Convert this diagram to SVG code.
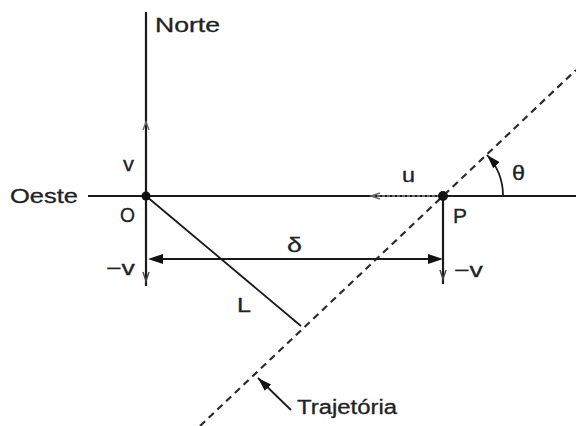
<svg xmlns="http://www.w3.org/2000/svg" width="576" height="426" viewBox="0 0 576 426">
<style>
.ln{stroke:#1a1a1a;fill:none;stroke-width:2.2}
.thin{stroke:#1a1a1a;fill:none;stroke-width:1.8}
.dash{stroke:#2a2a2a;fill:none;stroke-width:2.2;stroke-dasharray:7 5}
.gray{stroke:#888;fill:none;stroke-width:1.6}
text{font-family:"Liberation Sans",Arial,sans-serif;fill:#222;font-size:20px;stroke:#222;stroke-width:0.3}
</style>
<defs>
<marker id="big" viewBox="0 0 10 10" refX="10" refY="5" markerWidth="14" markerHeight="9" preserveAspectRatio="none" markerUnits="userSpaceOnUse" orient="auto">
<path d="M0,0 L10,5 L0,10 z" fill="#111"/>
</marker>
</defs>
<g id="connectors">
<line class="ln" x1="146" y1="12" x2="146" y2="286"/>
<line class="ln" x1="88" y1="196" x2="576" y2="196"/>
<line class="gray" x1="372" y1="196" x2="440" y2="196" stroke-dasharray="3 2"/>
<line class="ln" x1="443" y1="196" x2="443" y2="284"/>
<line class="dash" x1="200" y1="426" x2="576" y2="70"/>
<line class="thin" x1="146" y1="196" x2="301" y2="326"/>
<line class="thin" x1="160" y1="259" x2="430" y2="259"/>
<path d="M148,259 L163,254 L163,264 z" fill="#111"/>
<path d="M443,259 L428,254 L428,264 z" fill="#111"/>
<path class="thin" d="M503,196 A60 60 0 0 0 487,155" marker-end="url(#big)"/>
<line class="thin" x1="291" y1="410" x2="258" y2="378" marker-end="url(#big)"/>
<path d="M143,130 L146,122 L149,130" fill="none" stroke="#666" stroke-width="1.4"/>
<path d="M380,193 L371,196 L380,199" fill="none" stroke="#666" stroke-width="1.4"/>
<path d="M143,272 L146,281 L149,272" fill="none" stroke="#444" stroke-width="1.4"/>
<path d="M440,270 L443,279 L446,270" fill="none" stroke="#444" stroke-width="1.4"/>
</g>
<g id="O"><circle cx="146" cy="196" r="4.5" fill="#111"/><text x="120" y="222" textLength="15" lengthAdjust="spacingAndGlyphs">O</text></g>
<g id="P"><circle cx="443" cy="196" r="5" fill="#111"/><text x="453" y="223" textLength="14" lengthAdjust="spacingAndGlyphs">P</text></g>
<g id="Norte"><text x="155" y="32" textLength="65" lengthAdjust="spacingAndGlyphs">Norte</text></g>
<g id="Oeste"><text x="10" y="203" textLength="68" lengthAdjust="spacingAndGlyphs">Oeste</text></g>
<g id="labels">
<text x="123" y="171" textLength="11" lengthAdjust="spacingAndGlyphs">v</text>
<text x="106" y="275" textLength="29" lengthAdjust="spacingAndGlyphs">−v</text>
<text x="454" y="277" textLength="29" lengthAdjust="spacingAndGlyphs">−v</text>
<text x="287" y="252" textLength="15" lengthAdjust="spacingAndGlyphs">δ</text>
<text x="402" y="182" textLength="13" lengthAdjust="spacingAndGlyphs">u</text>
<text x="512" y="180" textLength="13" lengthAdjust="spacingAndGlyphs">θ</text>
<text x="237" y="312" textLength="14" lengthAdjust="spacingAndGlyphs">L</text>
<text x="297" y="414" textLength="100" lengthAdjust="spacingAndGlyphs">Trajetória</text>
</g>
</svg>
